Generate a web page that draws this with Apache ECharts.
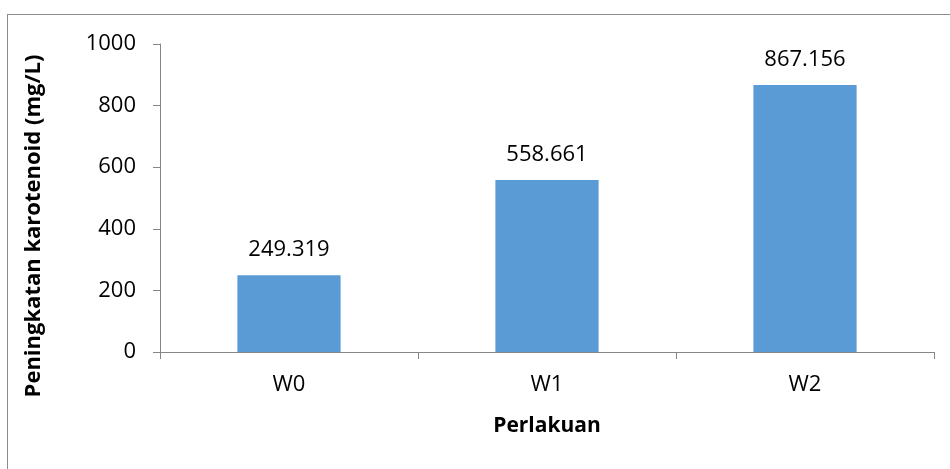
<!DOCTYPE html>
<html>
<head>
<meta charset="utf-8">
<script src="https://cdn.jsdelivr.net/npm/echarts@6/dist/echarts.min.js"></script>
<style>
  html, body { margin: 0; padding: 0; background: #fff; }
  #frame {
    position: absolute; left: 7px; top: 14px; width: 1000px; height: 600px;
    border: 1px solid #8c8c8c; box-sizing: border-box;
  }
  #chart { position: absolute; left: 0; top: 0; width: 950px; height: 469px; }
</style>
</head>
<body>
<div id="frame"></div>
<div id="chart"></div>
<script>
var categories = ['W0', 'W1', 'W2'];
var values = [249.319, 558.661, 867.156];
var yTicks = [0, 200, 400, 600, 800, 1000];

var chart = echarts.init(document.getElementById('chart'));
var axisColor = '#868686';
var font = '"Open Sans", "Noto Sans", sans-serif';

var option = {
  animation: false,
  grid: { left: 160, right: 16, top: 44, bottom: 117 },
  xAxis: {
    type: 'category',
    data: categories,
    name: 'Perlakuan',
    nameLocation: 'middle',
    nameGap: 64,
    nameTextStyle: { fontFamily: font, fontSize: 21, fontWeight: 'bold', color: '#000' },
    axisLine: { lineStyle: { color: axisColor } },
    axisTick: { show: true, length: 7, lineStyle: { color: axisColor } },
    axisLabel: { fontFamily: font, fontSize: 22, color: '#000', margin: 22 }
  },
  yAxis: {
    type: 'value',
    min: yTicks[0],
    max: yTicks[yTicks.length - 1],
    interval: yTicks[1] - yTicks[0],
    name: 'Peningkatan karotenoid (mg/L)',
    nameLocation: 'middle',
    nameGap: 115,
    nameTextStyle: {
      fontFamily: font, fontSize: 22, fontWeight: 'bold', color: '#000',
      padding: [0, 56, 0, 0]
    },
    axisLine: { show: true, lineStyle: { color: axisColor } },
    axisTick: { show: true, length: 7, lineStyle: { color: axisColor } },
    axisLabel: {
      fontFamily: font, fontSize: 22, color: '#000', margin: 24,
      formatter: function (v) { return String(v); }
    },
    splitLine: { show: false }
  },
  series: [{
    type: 'bar',
    data: values,
    barWidth: '40%',
    itemStyle: { color: '#5B9BD5' },
    label: {
      show: true,
      position: 'top',
      distance: 14,
      fontFamily: font,
      fontSize: 22,
      color: '#000',
      formatter: function (p) { return p.value.toFixed(3); }
    }
  }]
};
chart.setOption(option);
</script>
</body>
</html>
